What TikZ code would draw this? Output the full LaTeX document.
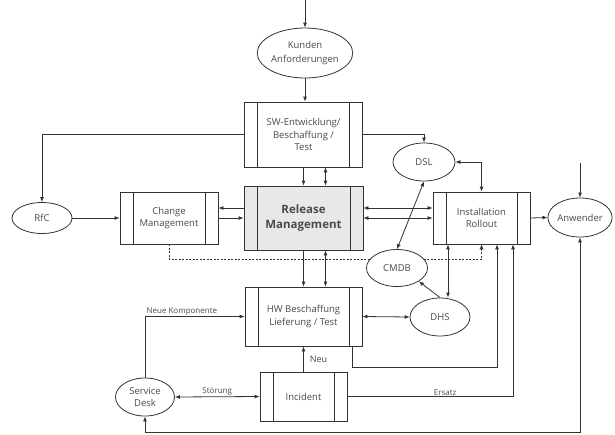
\documentclass[tikz,border=0pt]{standalone}
\usepackage{fontspec}
\setmainfont{Open Sans}
\usetikzlibrary{shapes.geometric,arrows.meta,backgrounds,calc}
\definecolor{ink}{HTML}{333333}
\definecolor{txt}{HTML}{4A4A4A}
\definecolor{relfill}{HTML}{E8E8E8}
\begin{document}
\begin{tikzpicture}[x=1pt,y=-1pt,line width=0.8pt,
  boxfont/.style={font=\fontsize{9.5}{12.5}\selectfont},
  proc/.style={draw=ink, fill=white, rectangle, inner sep=0pt, align=center,
    text=txt, boxfont,
    path picture={\draw[ink,line width=0.8pt]
      ([xshift=13pt]path picture bounding box.north west) -- ([xshift=13pt]path picture bounding box.south west)
      ([xshift=-13pt]path picture bounding box.north east) -- ([xshift=-13pt]path picture bounding box.south east);}},
  ell/.style={draw=ink, fill=white, ellipse, inner sep=0pt, align=center,
    text=txt, boxfont},
  arr/.style={draw=ink, -{Latex[length=5pt,width=4pt]}},
  darr/.style={draw=ink, {Latex[length=5pt,width=4pt]}-{Latex[length=5pt,width=4pt]}},
  lbl/.style={text=txt, font=\fontsize{8}{9}\selectfont, inner sep=1pt}
]
\useasboundingbox (0,0) rectangle (615,434);

% process boxes
\node[proc, minimum width=118pt, minimum height=65pt] (sw) at (303.5,134.5) {SW-Entwicklung/\\Beschaffung /\\Test};
\node[proc, fill=relfill, minimum width=119pt, minimum height=64pt,
      font=\bfseries\fontsize{11.5}{15}\selectfont] (rel) at (303.5,218) {Release\\Management};
\node[proc, minimum width=117pt, minimum height=59pt] (hw) at (303.5,316.5) {HW Beschaffung\\Lieferung / Test};
\node[proc, minimum width=87pt, minimum height=49pt] (inc) at (303.5,396.5) {Incident};
\node[proc, minimum width=98pt, minimum height=52pt] (chg) at (169,218) {Change\\Management};
\node[proc, minimum width=97pt, minimum height=52pt] (inst) at (481.5,218) {Installation\\Rollout};

% ellipses
\node[ell, minimum width=86pt, minimum height=50pt, font=\fontsize{9.5}{14}\selectfont] (kunden) at (305,53) {Kunden\\Anforderungen};
\node[ell, minimum width=60pt, minimum height=31pt] (rfc) at (42,218) {RfC};
\node[ell, minimum width=62pt, minimum height=38pt] (dsl) at (424,162) {DSL};
\node[ell, minimum width=61pt, minimum height=37pt] (cmdb) at (397,268) {CMDB};
\node[ell, minimum width=60pt, minimum height=38pt] (dhs) at (440,317) {DHS};
\node[ell, minimum width=59pt, minimum height=39pt] (anw) at (580,217.5) {Anwender};
\node[ell, minimum width=59pt, minimum height=38pt] (sd) at (145,397) {Service\\Desk};

\coordinate (kin) at (305,0);
\coordinate (ain) at (580,163);

\begin{scope}[on background layer]
  \fill[white] (0,0) rectangle (615,434);
  \draw[arr, dash pattern=on 2pt off 1.5pt] (chg.south) -- ++(0,15) -| (inst.south);
\end{scope}

% connectors
\draw[arr] (kin) -- (kunden.north);
\draw[arr] (kunden.south) -- (kunden.south |- sw.north);
\draw[arr] (sw.south) -- (rel.north);
\draw[darr] ([xshift=22pt]sw.south) -- ([xshift=22pt]rel.north);
\draw[arr] (rel.south) -- (hw.north);
\draw[darr] ([xshift=22pt]rel.south) -- ([xshift=22pt]hw.north);
\draw[arr] (inc.north) -- (hw.south) node[lbl, midway, right=5pt, font=\fontsize{9}{10}\selectfont] {Neu};
\draw[arr] (sw.west) -| (rfc.north);
\draw[arr] (sw.east) -| (dsl.north);
\draw[darr] (dsl.east) -| (inst.north);
\draw[darr] (dsl.south) -- (cmdb.north);
\draw[arr] (dhs.north) -- (cmdb.south east);
\draw[darr] ([xshift=-33.5pt]inst.south) -- ([xshift=-33.5pt]inst.south |- dhs.north);
\draw[darr] (hw.east) -- (dhs.west);
\draw[darr] ([yshift=10pt]rel.east) -- ([yshift=10pt]inst.west);
\draw[darr] (rel.east) -- (inst.west);
\draw[arr] ([yshift=10pt]rel.west) -- ([yshift=10pt]chg.east);
\draw[arr] (chg.east) -- (rel.west);
\draw[arr] (rfc.east) -- (chg.west);
\draw[arr] (inst.east) -- (anw.west);
\draw[arr] (ain) -- (anw.north);
\draw[arr] ([xshift=48.5pt]hw.south) -- ++(0,21) -| ([xshift=15.5pt]inst.south);
\draw[arr] (inc.east) -| ([xshift=31.5pt]inst.south) node[lbl, pos=0.295, above] {Ersatz};
\draw[darr] (sd.south) -- ++(0,16) -| (anw.south);
\draw[arr] (sd.north) |- (hw.west) node[lbl, pos=0.685, above] {Neue Komponente};
\draw[darr] (sd.east) -- (inc.west) node[lbl, midway, above] {Störung};
\end{tikzpicture}
\end{document}
